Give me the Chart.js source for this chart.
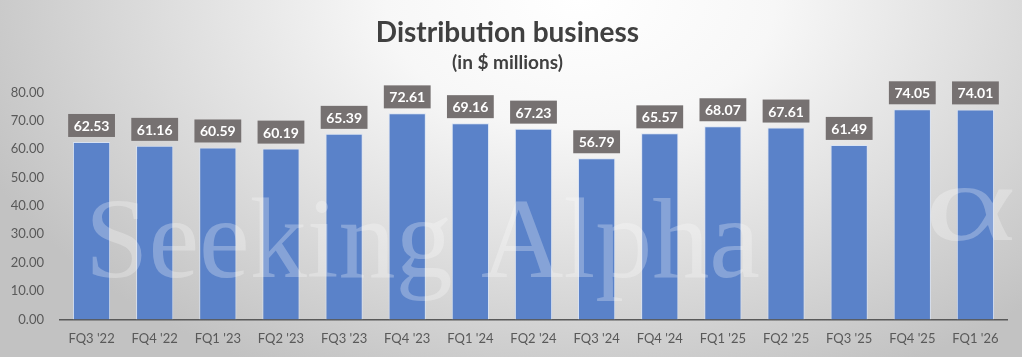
<!DOCTYPE html>
<html><head><meta charset="utf-8">
<script src="https://cdn.jsdelivr.net/npm/chart.js@4/dist/chart.umd.min.js"></script>
<style>html,body{margin:0;padding:0;background:#fff}#wrap{width:1022px;height:357px}</style>
</head><body><div id="wrap"><canvas id="c" width="1022" height="357"></canvas></div>
<script>
const categories = ["FQ3 '22","FQ4 '22","FQ1 '23","FQ2 '23","FQ3 '23","FQ4 '23","FQ1 '24","FQ2 '24","FQ3 '24","FQ4 '24","FQ1 '25","FQ2 '25","FQ3 '25","FQ4 '25","FQ1 '26"];
const distribution = [62.53,61.16,60.59,60.19,65.39,72.61,69.16,67.23,56.79,65.57,68.07,67.61,61.49,74.05,74.01];
const titleText = "Distribution business";
const subtitleText = "(in $ millions)";
const watermarkText = "Seeking Alpha";
const watermarkSymbol = "\u03B1";

const FONT = "Lato, 'Open Sans', sans-serif";

const bgPlugin = {
  id: 'bg',
  beforeDraw(chart) {
    const ctx = chart.ctx, w = chart.width, h = chart.height;
    ctx.save();
    ctx.translate(580, 0);
    ctx.scale(650/420, 1);
    const g = ctx.createRadialGradient(0, 0, 0, 0, 0, 420);
    g.addColorStop(0, '#ffffff');
    g.addColorStop(0.3, '#f7f7f7');
    g.addColorStop(1, '#c2c2c2');
    ctx.fillStyle = g;
    ctx.fillRect(-580 * 420/650, 0, w * 420/650 + 10, h);
    ctx.restore();
  }
};

const watermarkPlugin = {
  id: 'watermark',
  afterDatasetsDraw(chart) {
    const ctx = chart.ctx;
    ctx.save();
    ctx.fillStyle = 'rgba(255,255,255,0.27)';
    ctx.textBaseline = 'alphabetic';
    ctx.textAlign = 'left';
    let size = 90;
    ctx.font = `${size}px 'Liberation Serif', 'DejaVu Serif', serif`;
    const w = ctx.measureText(watermarkText).width;
    size = size * 675 / w;
    ctx.font = `${size}px 'Liberation Serif', 'DejaVu Serif', serif`;
    ctx.fillText(watermarkText, 85, 277);
    ctx.translate(924, 240);
    ctx.scale(1.6, 1);
    ctx.font = `110px 'Liberation Serif', 'DejaVu Serif', serif`;
    ctx.fillText(watermarkSymbol, 0, 0);
    ctx.restore();
  }
};

const labelPlugin = {
  id: 'boxLabels',
  afterDatasetsDraw(chart) {
    const ctx = chart.ctx;
    const meta = chart.getDatasetMeta(0);
    ctx.save();
    ctx.font = `bold 14px ${FONT}`;
    ctx.textAlign = 'center';
    ctx.textBaseline = 'middle';
    meta.data.forEach((bar, i) => {
      const txt = distribution[i].toFixed(2);
      const tw = ctx.measureText(txt).width;
      const bw = tw + 11, bh = 23;
      const bottom = bar.y - 5;
      ctx.fillStyle = '#767171';
      ctx.fillRect(bar.x - bw/2, bottom - bh, bw, bh);
      ctx.fillStyle = '#ffffff';
      ctx.fillText(txt, bar.x, bottom - bh/2 + 1);
    });
    ctx.restore();
  }
};

new Chart(document.getElementById('c'), {
  type: 'bar',
  data: {
    labels: categories,
    datasets: [{
      data: distribution,
      backgroundColor: '#5a82c9',
      borderColor: 'rgba(215,226,244,0.9)',
      borderWidth: 1,
      barPercentage: 0.59,
      categoryPercentage: 1.0
    }]
  },
  options: {
    responsive: false,
    animation: false,
    layout: { padding: { top: 6, right: 15, bottom: 6, left: 8 } },
    plugins: {
      legend: { display: false },
      tooltip: { enabled: false },
      title: {
        display: true, text: titleText, color: '#404040',
        font: { family: FONT, size: 28, weight: 'bold' },
        padding: { top: 10, bottom: 0 }
      },
      subtitle: {
        display: true, text: subtitleText, color: '#404040',
        font: { family: FONT, size: 19, weight: 'bold' },
        padding: { top: 2, bottom: 18 }
      }
    },
    scales: {
      x: {
        grid: { display: false },
        border: { display: true, color: '#595959', width: 1.5 },
        ticks: { color: '#595959', font: { family: FONT, size: 13 }, padding: 4, maxRotation: 0, autoSkip: false }
      },
      y: {
        min: 0, max: 80,
        grid: { display: false },
        border: { display: false },
        ticks: { stepSize: 10, color: '#595959', font: { family: FONT, size: 13 }, padding: 8,
          callback: v => v.toFixed(2) },
        afterFit(scale) { scale.width = 52; }
      }
    }
  },
  plugins: [bgPlugin, watermarkPlugin, labelPlugin]
});
</script></body></html>
